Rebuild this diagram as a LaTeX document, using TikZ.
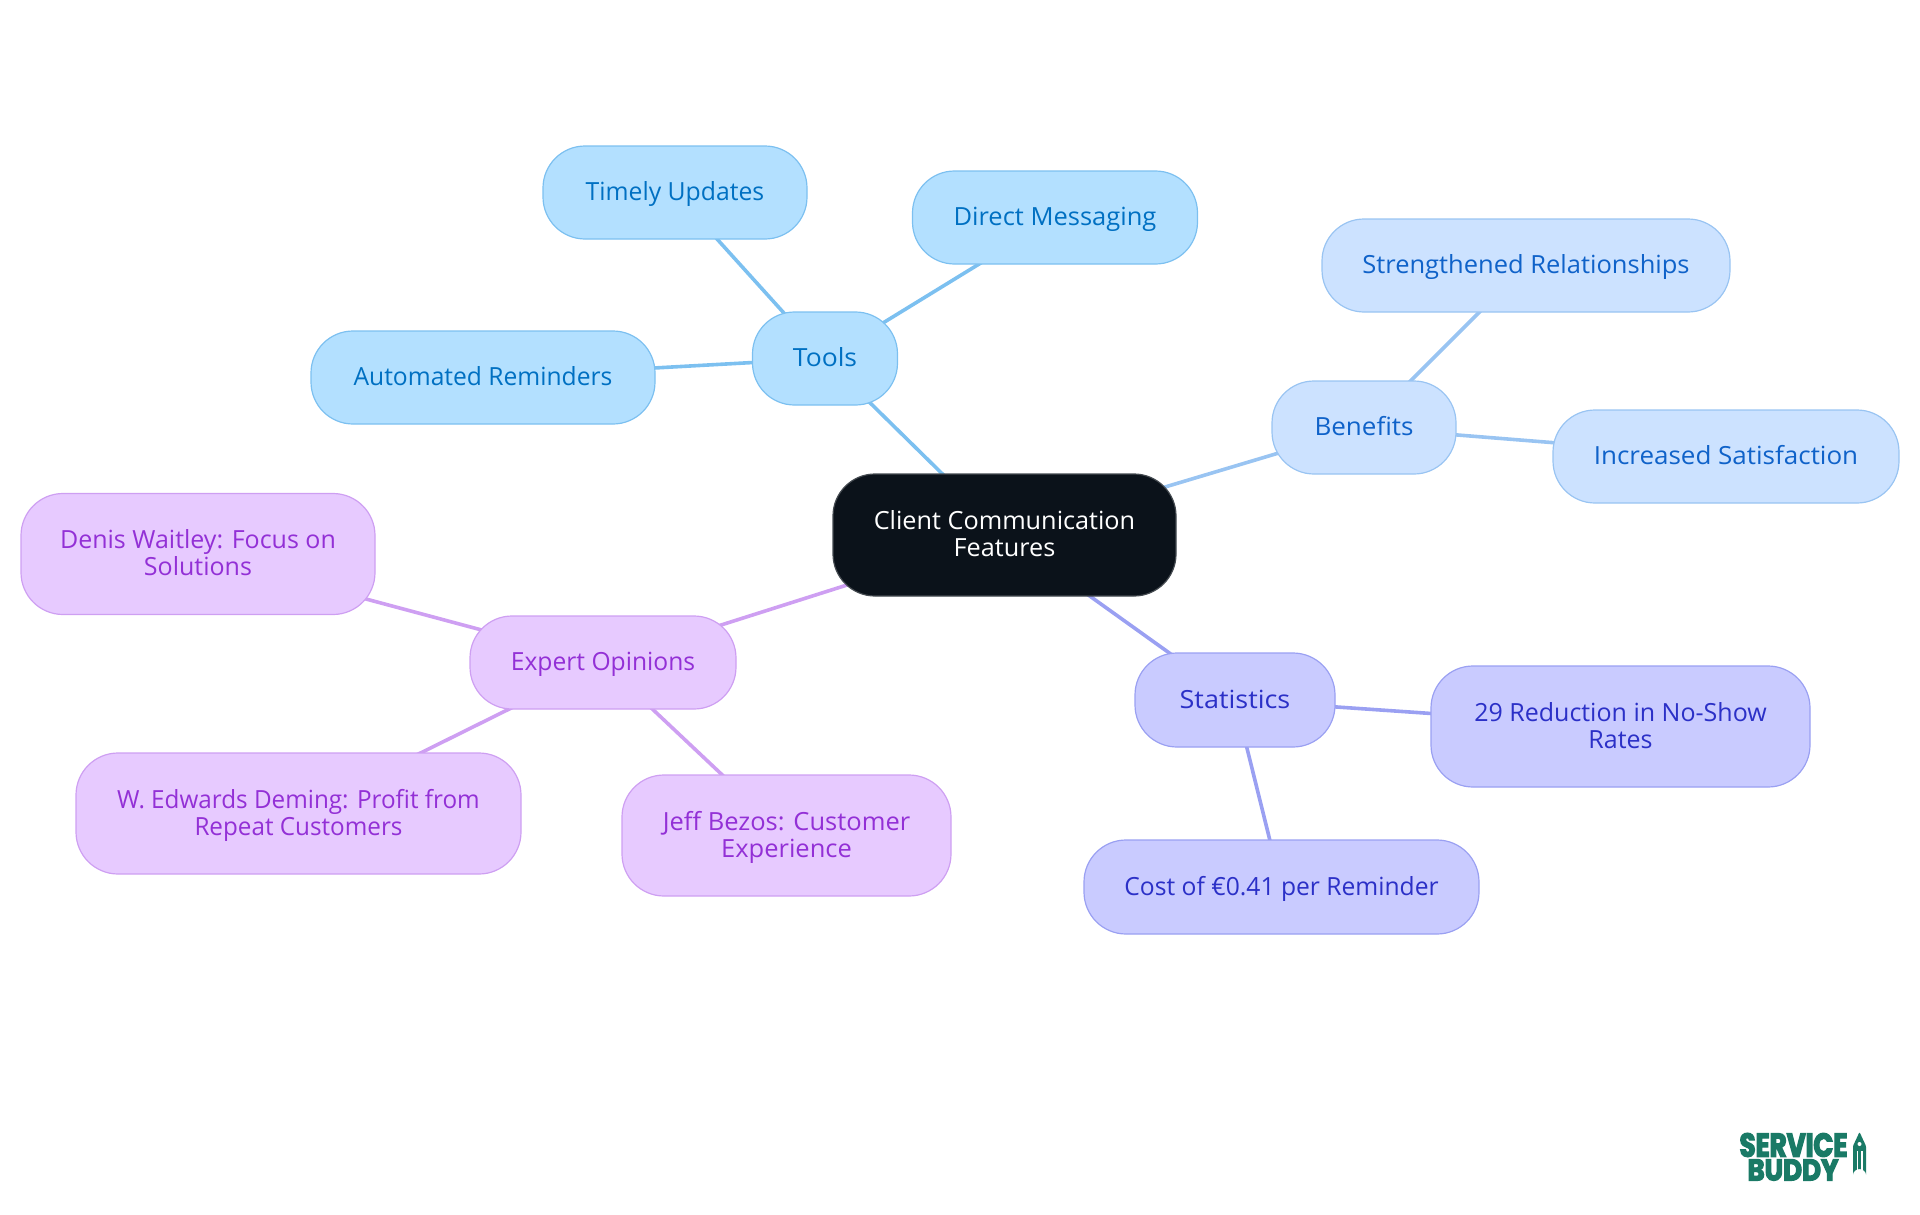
\documentclass[tikz,border=0pt]{standalone}
\usepackage{fontspec}
\usetikzlibrary{backgrounds}
\setmainfont{Open Sans}
\newfontfamily\logofont[FakeBold=4]{Poppins Bold}
\newcommand\fw[2]{\rule[-6.5pt]{0pt}{27pt}\raisebox{-1pt}[0pt][0pt]{\addfontfeature{FakeStretch=#1}#2}}
\definecolor{toolF}{HTML}{B3E0FF}\definecolor{toolB}{HTML}{7CC0F0}\definecolor{toolT}{HTML}{0070C2}
\definecolor{beneF}{HTML}{CCE2FF}\definecolor{beneB}{HTML}{99C4F2}\definecolor{beneT}{HTML}{0F62C9}
\definecolor{statF}{HTML}{C9CBFF}\definecolor{statB}{HTML}{9AA0F2}\definecolor{statT}{HTML}{2B30C7}
\definecolor{expF}{HTML}{E7CAFF}\definecolor{expB}{HTML}{CE9FF2}\definecolor{expT}{HTML}{9330D6}
\definecolor{rootF}{HTML}{0B121A}\definecolor{rootB}{HTML}{444A50}
\definecolor{logoC}{HTML}{1A7A66}
\tikzset{
  box/.style={rounded corners=42pt,line width=1.2pt,align=center,inner sep=0pt,outer sep=0pt,
    font=\fontsize{25}{27}\selectfont},
  rootbox/.style={box,draw=rootB,fill=rootF,text=white},
  toolbox/.style={box,draw=toolB,fill=toolF,text=toolT},
  benebox/.style={box,draw=beneB,fill=beneF,text=beneT},
  statbox/.style={box,draw=statB,fill=statF,text=statT},
  expbox/.style={box,draw=expB,fill=expF,text=expT},
  link/.style={line width=3.6pt},
  logotext/.style={text=logoC,inner sep=0pt}
}
\begin{document}
\begin{tikzpicture}[x=1pt,y=-1pt]
\useasboundingbox (0,0) rectangle (1920,1215);
\node[rootbox,minimum width=343pt,minimum height=122pt] (root) at (1004.5,535) {\fw{1.01}{Client Communication}\\\fw{1.01}{Features}};
\node[toolbox,minimum width=145pt,minimum height=93pt] (tools) at (825,358.5) {\fw{1.06}{Tools}};
\node[toolbox,minimum width=264pt,minimum height=93pt] (timely) at (675,192.5) {\fw{0.99}{Timely Updates}};
\node[toolbox,minimum width=285pt,minimum height=93pt] (direct) at (1055,217.5) {\fw{1.02}{Direct Messaging}};
\node[toolbox,minimum width=344pt,minimum height=93pt] (auto) at (483,377.5) {\fw{0.985}{Automated Reminders}};
\node[benebox,minimum width=184pt,minimum height=93pt] (bene) at (1364,427.5) {\fw{1.04}{Benefits}};
\node[benebox,minimum width=408pt,minimum height=93pt] (stren) at (1526,265.5) {\fw{1.02}{Strengthened Relationships}};
\node[benebox,minimum width=346pt,minimum height=93pt] (incr) at (1726,456.5) {\fw{1.04}{Increased Satisfaction}};
\node[statbox,minimum width=200pt,minimum height=94pt] (stat) at (1235,700) {\fw{1.08}{Statistics}};
\node[statbox,minimum width=379pt,minimum height=121pt] (redu) at (1620.5,726.5) {\fw{1.0}{29 Reduction in No-Show}\\\fw{1.0}{Rates}};
\node[statbox,minimum width=395pt,minimum height=94pt] (cost) at (1281.5,887) {\fw{0.985}{Cost of €0.41 per Reminder}};
\node[expbox,minimum width=266pt,minimum height=93pt] (expert) at (603,662.5) {\fw{0.985}{Expert Opinions}};
\node[expbox,minimum width=354pt,minimum height=121pt] (denis) at (198,554) {\fw{1.0}{Denis Waitley: Focus on}\\\fw{1.0}{Solutions}};
\node[expbox,minimum width=445pt,minimum height=121pt] (deming) at (298.5,813.5) {\fw{0.97}{W. Edwards Deming: Profit from}\\\fw{0.97}{Repeat Customers}};
\node[expbox,minimum width=329pt,minimum height=121pt] (bezos) at (786.5,835.5) {\fw{1.02}{Jeff Bezos: Customer}\\\fw{1.02}{Experience}};
\begin{pgfonlayer}{background}
\draw[link,toolB] (root.center) -- (tools.center);
\draw[link,toolB] (tools.center) -- (timely.center);
\draw[link,toolB] (tools.center) -- (direct.center);
\draw[link,toolB] (tools.center) -- (auto.center);
\draw[link,beneB] (root.center) -- (bene.center);
\draw[link,beneB] (bene.center) -- (stren.center);
\draw[link,beneB] (bene.center) -- (incr.center);
\draw[link,statB] (root.center) -- (stat.center);
\draw[link,statB] (stat.center) -- (redu.center);
\draw[link,statB] (stat.center) -- (cost.center);
\draw[link,expB] (root.center) -- (expert.center);
\draw[link,expB] (expert.center) -- (denis.center);
\draw[link,expB] (expert.center) -- (deming.center);
\draw[link,expB] (expert.center) -- (bezos.center);
\end{pgfonlayer}
\node[logotext,font=\logofont\fontsize{33}{33}\selectfont] (logoa) at (1793.5,1145) {\addfontfeature{FakeStretch=0.79}SERVICE};
\node[logotext,font=\logofont\fontsize{30}{30}\selectfont] (logob) at (1793,1170) {\addfontfeature{FakeStretch=0.87}BUDDY};
\fill[logoC,rounded corners=1pt] (1859.5,1132) -- (1866,1146) -- (1866,1175.5) arc[start angle=0,end angle=180,radius=6.5pt] -- (1853,1146) -- cycle;
\fill[white] (1859.5,1144) circle[radius=2pt];
\fill[white] (1856.5,1151) rectangle (1857.7,1170);
\fill[white] (1861.3,1151) rectangle (1862.5,1170);
\fill[white] (1855.5,1172) rectangle (1863.5,1173.5);
\end{tikzpicture}
\end{document}
